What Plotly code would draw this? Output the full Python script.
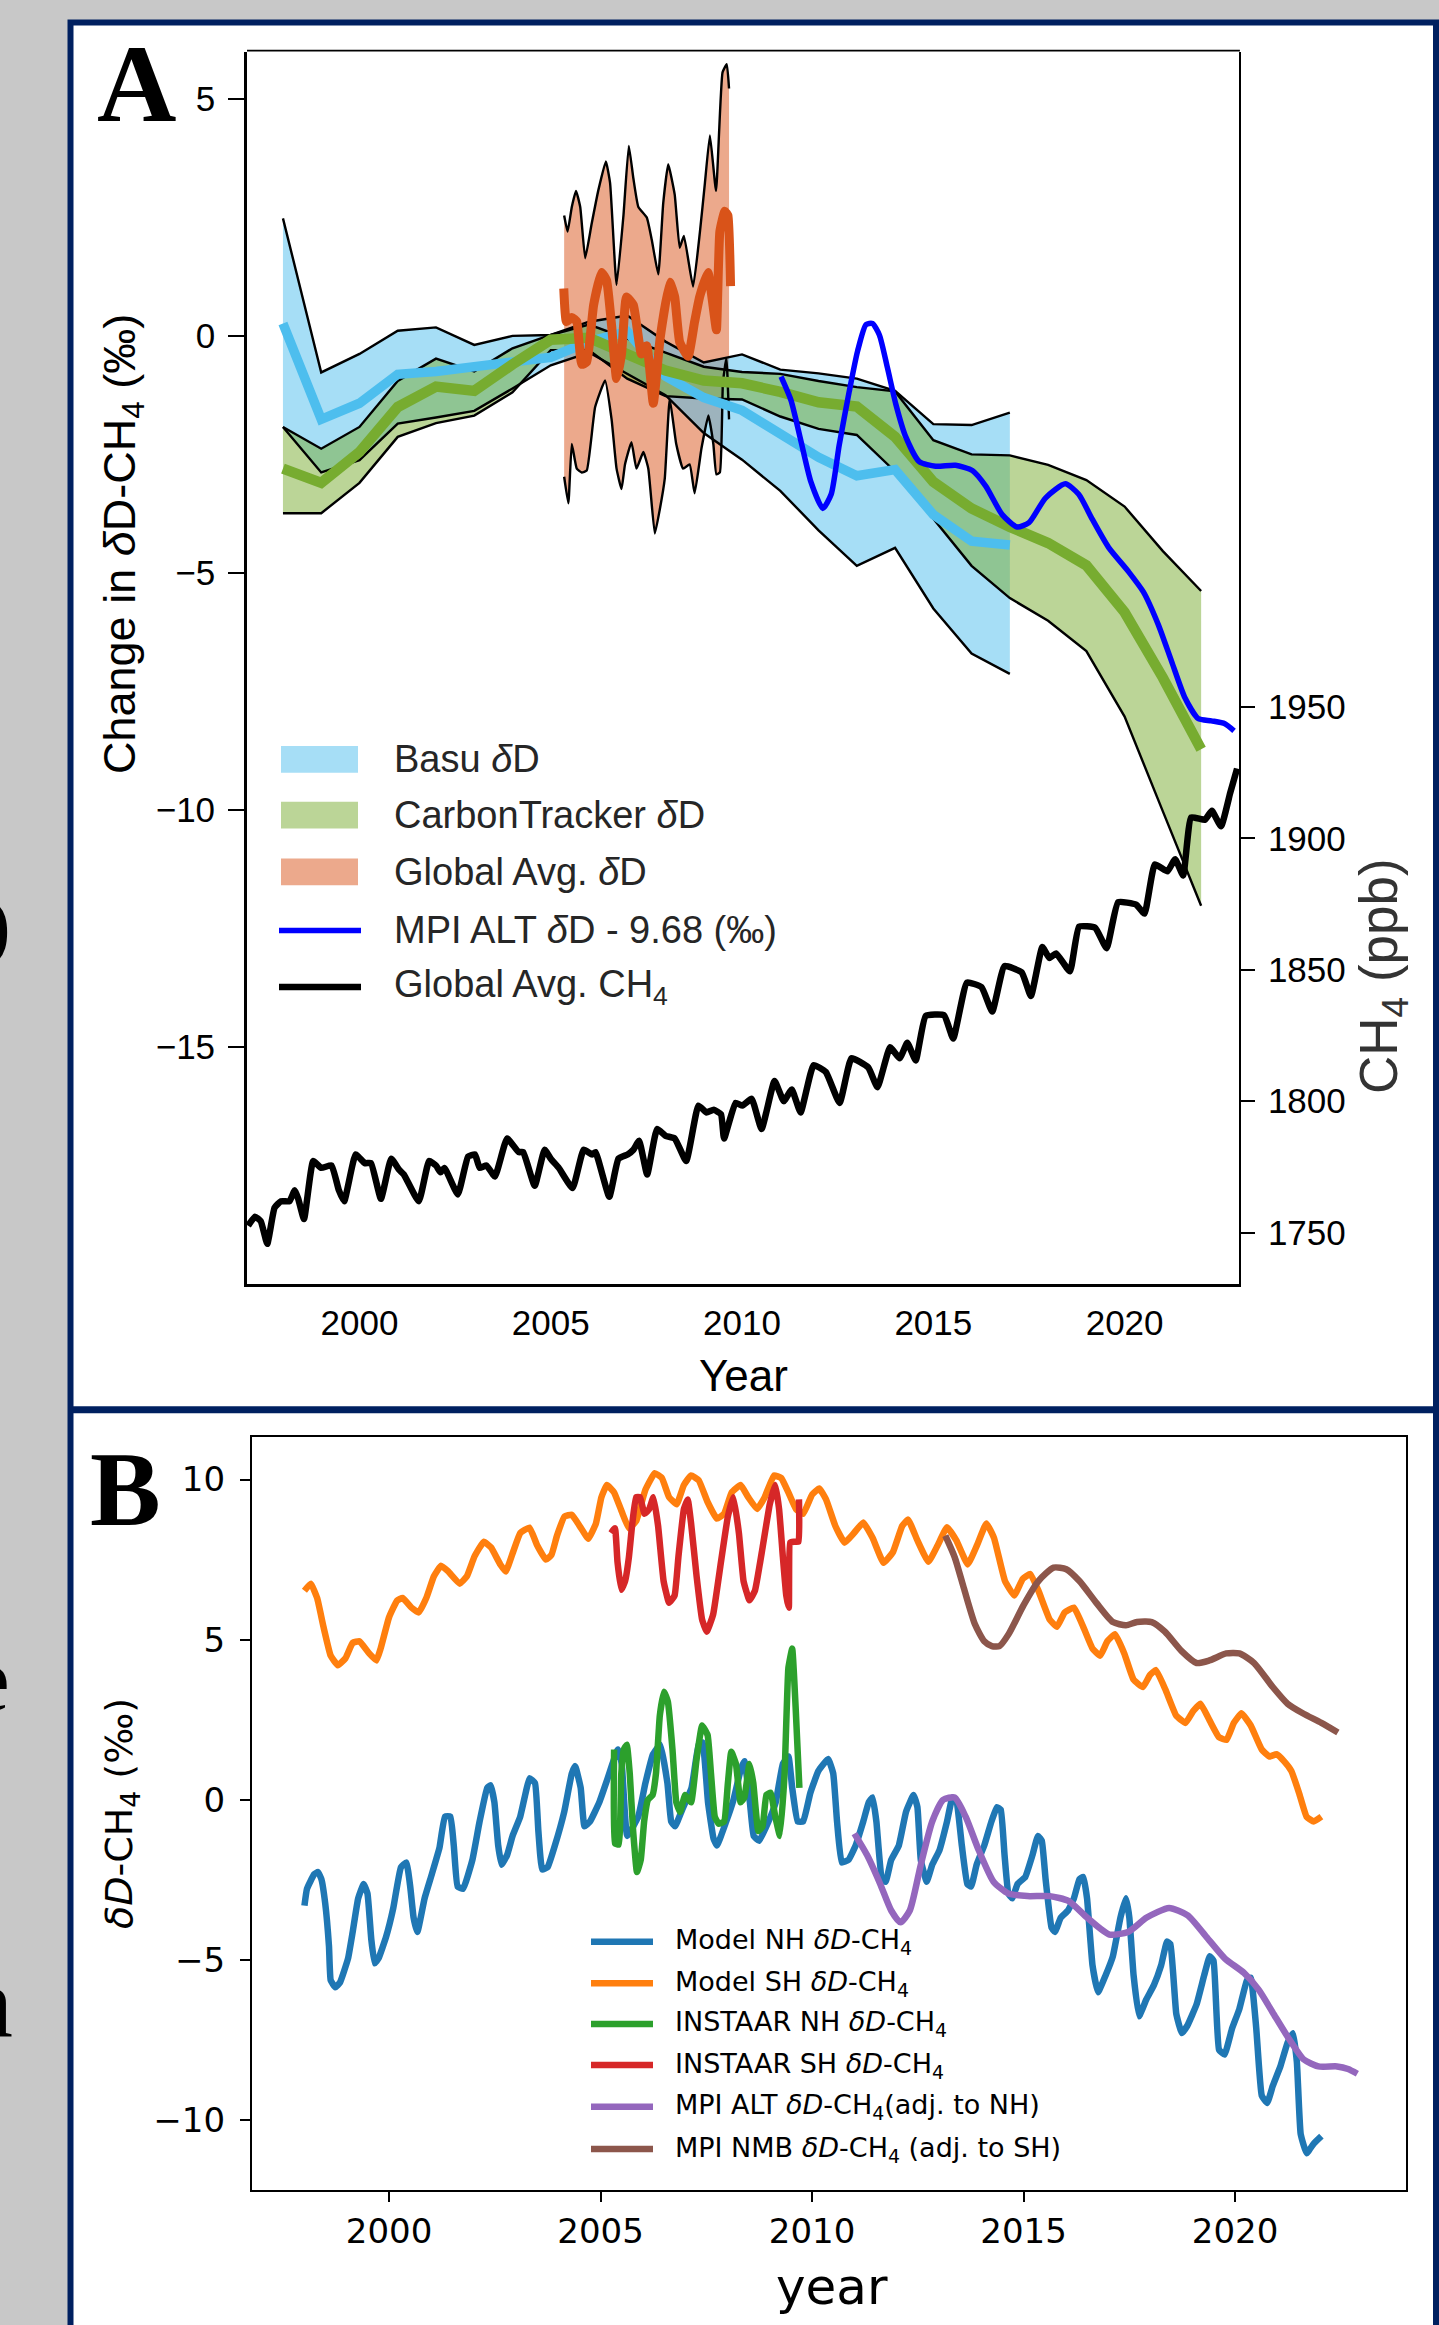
import plotly.graph_objects as go

W, H = 1439, 2325
def px(x): return x / W
def py(y): return 1 - y / H

ARIAL = "Liberation Sans, Arial, sans-serif"
DEJAVU = "DejaVu Sans, sans-serif"
SERIF = "Liberation Serif, Times New Roman, serif"

# ---------------- Panel A data ----------------
basu_year = list(range(1998, 2018))
basu_hi = [2.48, -0.77, -0.38, 0.11, 0.18, -0.19, 0.00, 0.02, 0.30, 0.43,
           -0.12, -0.56, -0.39, -0.71, -0.79, -0.90, -1.16, -1.86, -1.88, -1.62]
basu_mid = [0.26, -1.76, -1.42, -0.81, -0.75, -0.64, -0.55, -0.45, -0.12, 0.09,
            -0.85, -1.30, -1.57, -2.09, -2.56, -2.95, -2.82, -3.77, -4.33, -4.41]
basu_lo = [-1.92, -2.88, -2.62, -1.85, -1.72, -1.58, -1.11, -0.62, -0.35, -0.80,
           -1.25, -2.05, -2.61, -3.27, -4.10, -4.85, -4.47, -5.75, -6.70, -7.13]

ct_year = list(range(1998, 2023))
ct_hi = [-1.92, -2.38, -1.92, -0.95, -0.48, -0.75, -0.26, 0.02, 0.24, -0.05,
         -0.35, -0.65, -0.76, -0.80, -0.95, -1.08, -1.17, -2.20, -2.50, -2.52,
         -2.72, -3.04, -3.60, -4.54, -5.38]
ct_mid = [-2.80, -3.10, -2.45, -1.50, -1.07, -1.16, -0.60, -0.08, -0.04, -0.38,
          -0.73, -0.94, -1.00, -1.18, -1.40, -1.49, -2.13, -3.08, -3.64, -4.03,
          -4.37, -4.84, -5.83, -7.21, -8.72]
ct_lo = [-3.74, -3.74, -3.10, -2.13, -1.84, -1.68, -1.19, -0.30, -0.30, -0.90,
         -1.27, -1.32, -1.34, -1.70, -1.96, -2.09, -2.86, -3.85, -4.85, -5.53,
         -6.01, -6.65, -8.03, -10.03, -12.02]

ga_hi_x = [2005.35, 2005.44, 2005.55, 2005.66, 2005.77, 2005.90, 2006.07, 2006.24, 2006.44, 2006.55,
           2006.72, 2006.90, 2007.04, 2007.16, 2007.29, 2007.51, 2007.64, 2007.81, 2007.94, 2008.07,
           2008.24, 2008.37, 2008.48, 2008.72, 2008.90, 2009.03, 2009.16, 2009.32, 2009.49, 2009.60,
           2009.66]
ga_hi_y = [2.54, 2.20, 2.72, 3.06, 2.72, 1.64, 2.37, 3.06, 3.68, 3.23,
           1.08, 2.54, 4.01, 3.32, 2.72, 2.50, 2.03, 1.30, 2.80, 3.62,
           2.98, 1.86, 2.11, 1.04, 2.20, 3.23, 4.23, 3.06, 5.56, 5.73,
           5.22]
ga_lo_x = [2005.35, 2005.46, 2005.55, 2005.68, 2005.81, 2005.94, 2006.16, 2006.42, 2006.59, 2006.72,
           2006.85, 2006.94, 2007.11, 2007.24, 2007.42, 2007.55, 2007.72, 2007.85, 2007.98, 2008.11,
           2008.28, 2008.46, 2008.63, 2008.76, 2008.94, 2009.12, 2009.25, 2009.33, 2009.42, 2009.50,
           2009.59, 2009.66]
ga_lo_y = [-2.97, -3.53, -2.28, -2.80, -2.88, -2.84, -1.50, -0.94, -1.76, -2.80,
           -3.23, -2.71, -2.24, -2.80, -2.45, -2.80, -4.17, -3.66, -3.01, -1.33,
           -2.28, -2.80, -2.71, -3.32, -2.37, -1.68, -2.28, -2.92, -2.88, -0.99,
           -0.47, -1.76]
ga_mid_x = [2005.34, 2005.41, 2005.55, 2005.68, 2005.81, 2005.94, 2006.12, 2006.33, 2006.46, 2006.59,
            2006.72, 2006.85, 2006.98, 2007.16, 2007.37, 2007.51, 2007.68, 2007.86, 2008.11, 2008.24,
            2008.37, 2008.59, 2008.76, 2008.89, 2009.11, 2009.24, 2009.33, 2009.42, 2009.55, 2009.63,
            2009.70]
ga_mid_y = [1.00, 0.30, 0.39, 0.30, -0.60, -0.55, 0.65, 1.34, 1.17, 0.22,
            -0.90, -0.38, 0.82, 0.65, -0.38, -0.21, -1.42, -0.04, 1.13, 0.82,
            -0.13, -0.43, 0.30, 0.82, 1.34, 0.65, 0.13, 2.20, 2.63, 2.54,
            1.05]

mpi_alt_x = [2011.02, 2011.28, 2011.54, 2011.80, 2012.11, 2012.33, 2012.54, 2012.80, 2013.02, 2013.24,
             2013.41, 2013.59, 2013.80, 2014.02, 2014.28, 2014.63, 2015.06, 2015.58, 2016.02, 2016.37,
             2016.80, 2017.19, 2017.50, 2017.93, 2018.45, 2018.80, 2019.15, 2019.58, 2020.10, 2020.49,
             2020.88, 2021.23, 2021.58, 2021.92, 2022.27, 2022.62, 2022.86]
mpi_alt_y = [-0.86, -1.36, -2.22, -3.08, -3.64, -3.34, -2.30, -1.18, -0.32, 0.24,
             0.26, 0.02, -0.67, -1.44, -2.13, -2.65, -2.75, -2.73, -2.84, -3.17,
             -3.77, -4.03, -3.94, -3.42, -3.12, -3.34, -3.86, -4.46, -4.97, -5.40,
             -6.09, -6.87, -7.64, -8.07, -8.12, -8.18, -8.33]

ch4_year = [1997.09, 1997.27, 1997.42, 1997.59, 1997.78, 1997.95, 1998.17, 1998.31, 1998.40, 1998.55,
            1998.79, 1999.00, 1999.27, 1999.46, 1999.60, 1999.90, 2000.14, 2000.30, 2000.56, 2000.83,
            2001.04, 2001.16, 2001.55, 2001.82, 2002.00, 2002.12, 2002.22, 2002.57, 2002.84, 2003.02,
            2003.14, 2003.32, 2003.54, 2003.86, 2004.16, 2004.28, 2004.58, 2004.84, 2005.00, 2005.21,
            2005.57, 2005.86, 2006.08, 2006.17, 2006.53, 2006.77, 2007.01, 2007.16, 2007.31, 2007.52,
            2007.78, 2008.00, 2008.24, 2008.54, 2008.86, 2009.07, 2009.26, 2009.45, 2009.53, 2009.83,
            2010.01, 2010.25, 2010.51, 2010.85, 2011.09, 2011.30, 2011.53, 2011.87, 2012.19, 2012.55,
            2012.86, 2013.30, 2013.54, 2013.87, 2014.12, 2014.32, 2014.54, 2014.80, 2015.28, 2015.52,
            2015.88, 2016.26, 2016.54, 2016.86, 2017.31, 2017.55, 2017.85, 2018.03, 2018.21, 2018.57,
            2018.81, 2019.23, 2019.53, 2019.83, 2020.30, 2020.52, 2020.79, 2021.12, 2021.32, 2021.53,
            2021.74, 2022.10, 2022.28, 2022.52, 2022.76, 2022.94]
ch4_ppb = [1752.6, 1756.0, 1754.3, 1745.7, 1759.4, 1761.9, 1761.9, 1766.1, 1762.8, 1755.1,
           1777.2, 1774.6, 1775.5, 1766.1, 1761.9, 1779.7, 1776.4, 1776.4, 1762.8, 1778.1,
           1773.8, 1772.1, 1761.9, 1777.2, 1775.5, 1772.9, 1774.6, 1764.5, 1778.9, 1779.7,
           1774.6, 1775.5, 1771.3, 1785.8, 1780.6, 1780.6, 1767.8, 1781.5, 1778.1, 1774.6,
           1766.9, 1781.5, 1779.7, 1780.6, 1763.6, 1778.1, 1779.7, 1781.5, 1784.9, 1772.1,
           1789.4, 1786.8, 1785.8, 1777.2, 1798.3, 1795.7, 1796.7, 1795.0, 1785.8, 1799.3,
           1798.3, 1800.9, 1789.4, 1807.7, 1800.0, 1804.4, 1795.7, 1813.7, 1811.1, 1799.3,
           1816.3, 1812.8, 1805.3, 1820.5, 1816.3, 1822.2, 1815.5, 1832.4, 1832.7, 1823.8,
           1845.1, 1843.4, 1834.1, 1851.4, 1849.0, 1840.0, 1858.7, 1854.5, 1856.2, 1849.4,
           1866.4, 1866.0, 1858.2, 1875.7, 1874.8, 1871.4, 1890.1, 1887.5, 1892.1, 1885.9,
           1908.0, 1907.1, 1910.5, 1904.6, 1917.3, 1926.6]

a_xticks = [2000, 2005, 2010, 2015, 2020]
a_yticks = [-15, -10, -5, 0, 5]
a_y2ticks = [1750, 1800, 1850, 1900, 1950]

legend_a_labels = ["Basu <i>δ</i>D", "CarbonTracker <i>δ</i>D", "Global Avg. <i>δ</i>D",
                   "MPI ALT <i>δ</i>D - 9.68 (‰)", "Global Avg. CH<sub>4</sub>"]

# ---------------- Panel B data ----------------
nh_x = [1998.00, 1998.06, 1998.23, 1998.32, 1998.40, 1998.49, 1998.58, 1998.62, 1998.73, 1998.84,
        1999.03, 1999.14, 1999.27, 1999.40, 1999.49, 1999.58, 1999.66, 1999.75, 1999.93, 2000.10,
        2000.28, 2000.41, 2000.50, 2000.58, 2000.67, 2000.84, 2001.01, 2001.19, 2001.32, 2001.45,
        2001.53, 2001.62, 2001.75, 2001.97, 2002.14, 2002.32, 2002.40, 2002.49, 2002.58, 2002.66,
        2002.79, 2002.92, 2003.10, 2003.23, 2003.32, 2003.45, 2003.53, 2003.62, 2003.75, 2003.92,
        2004.14, 2004.32, 2004.40, 2004.53, 2004.62, 2004.75, 2004.97, 2005.15, 2005.28, 2005.41,
        2005.50, 2005.63, 2005.89, 2006.06, 2006.24, 2006.41, 2006.58, 2006.67, 2006.76, 2006.93,
        2007.15, 2007.32, 2007.41, 2007.54, 2007.67, 2007.75, 2007.97, 2008.14, 2008.32, 2008.40,
        2008.53, 2008.62, 2008.75, 2008.97, 2009.14, 2009.31, 2009.44, 2009.53, 2009.66, 2009.79,
        2009.96, 2010.15, 2010.38, 2010.50, 2010.59, 2010.70, 2010.86, 2011.03, 2011.21, 2011.34,
        2011.43, 2011.52, 2011.65, 2011.74, 2011.87, 2012.05, 2012.22, 2012.40, 2012.49, 2012.57,
        2012.71, 2012.84, 2013.01, 2013.19, 2013.32, 2013.41, 2013.54, 2013.67, 2013.76, 2013.89,
        2014.07, 2014.24, 2014.37, 2014.46, 2014.55, 2014.64, 2014.73, 2014.86, 2015.04, 2015.21,
        2015.34, 2015.43, 2015.52, 2015.66, 2015.74, 2015.88, 2016.05, 2016.19, 2016.32, 2016.41,
        2016.50, 2016.63, 2016.76, 2016.94, 2017.11, 2017.29, 2017.42, 2017.50, 2017.60, 2017.73,
        2017.90, 2018.08, 2018.25, 2018.39, 2018.47, 2018.61, 2018.74, 2018.87, 2019.09, 2019.27,
        2019.40, 2019.49, 2019.62, 2019.75, 2019.93, 2020.10, 2020.28, 2020.37, 2020.50, 2020.63,
        2020.76, 2020.89, 2021.07, 2021.24, 2021.37, 2021.46, 2021.55, 2021.69, 2021.86, 2022.04]
nh_y = [-3.31, -2.78, -2.33, -2.26, -2.48, -3.23, -4.58, -5.64, -5.86, -5.71,
        -4.96, -4.13, -3.08, -2.63, -2.93, -4.36, -5.11, -4.96, -4.28, -3.38,
        -2.11, -1.96, -2.71, -3.68, -4.13, -3.08, -2.33, -1.51, -0.53, -0.53,
        -1.43, -2.71, -2.78, -1.88, -0.68, 0.37, 0.45, -0.08, -1.43, -2.03,
        -1.73, -1.13, -0.53, 0.22, 0.67, 0.52, -0.98, -2.18, -2.10, -1.43,
        -0.38, 0.82, 1.05, 0.37, -0.83, -0.68, -0.08, 0.60, 1.12, 1.57,
        1.12, -1.13, -0.53, 0.52, 1.42, 1.72, 0.52, -0.68, -0.83, -0.31,
        0.37, 1.72, 1.79, -0.08, -1.21, -1.43, -0.68, -0.01, 0.97, 1.20,
        -0.08, -1.13, -1.28, -0.68, -0.08, 1.12, 1.35, 0.37, -0.68, -0.68,
        0.22, 0.90, 1.27, 0.82, -0.68, -1.96, -1.88, -1.43, -0.68, -0.08,
        0.07, -0.68, -2.48, -2.56, -1.88, -1.43, -0.38, 0.15, -0.23, -1.88,
        -2.56, -2.03, -1.58, -0.68, 0.07, -0.02, -1.43, -2.63, -2.71, -2.03,
        -1.43, -0.68, -0.23, -0.31, -1.73, -2.93, -3.08, -2.63, -2.41, -1.73,
        -1.13, -1.28, -2.48, -3.99, -4.13, -3.68, -3.46, -3.08, -2.48, -2.41,
        -3.08, -5.18, -6.01, -5.48, -4.89, -3.68, -3.08, -3.68, -5.48, -6.76,
        -6.24, -5.79, -5.18, -4.43, -4.51, -6.69, -7.29, -7.06, -6.39, -5.48,
        -4.89, -5.03, -7.81, -7.96, -7.14, -6.54, -5.64, -5.56, -7.14, -9.24,
        -9.47, -8.94, -8.33, -7.59, -7.29, -8.19, -10.44, -11.04, -10.74, -10.51]

sh_x = [1998.00, 1998.15, 1998.30, 1998.45, 1998.62, 1998.79, 1998.97, 1999.14, 1999.30, 1999.53,
        1999.70, 1999.80, 2000.00, 2000.19, 2000.32, 2000.53, 2000.70, 2000.88, 2001.06, 2001.23,
        2001.40, 2001.67, 2001.84, 2002.02, 2002.24, 2002.41, 2002.63, 2002.76, 2002.93, 2003.10,
        2003.32, 2003.50, 2003.71, 2003.84, 2003.97, 2004.15, 2004.32, 2004.54, 2004.71, 2004.89,
        2005.02, 2005.15, 2005.32, 2005.50, 2005.67, 2005.84, 2006.06, 2006.28, 2006.45, 2006.62,
        2006.80, 2006.97, 2007.14, 2007.32, 2007.53, 2007.75, 2007.92, 2008.10, 2008.31, 2008.49,
        2008.70, 2008.88, 2009.10, 2009.27, 2009.44, 2009.62, 2009.79, 2010.00, 2010.17, 2010.33,
        2010.55, 2010.77, 2010.99, 2011.21, 2011.43, 2011.69, 2011.91, 2012.13, 2012.27, 2012.49,
        2012.75, 2012.97, 2013.19, 2013.41, 2013.68, 2013.90, 2014.12, 2014.30, 2014.56, 2014.78,
        2014.98, 2015.16, 2015.35, 2015.62, 2015.79, 2015.97, 2016.19, 2016.41, 2016.63, 2016.81,
        2016.98, 2017.16, 2017.38, 2017.60, 2017.82, 2017.99, 2018.13, 2018.35, 2018.61, 2018.83,
        2019.01, 2019.18, 2019.40, 2019.62, 2019.80, 2019.97, 2020.15, 2020.37, 2020.63, 2020.81,
        2020.98, 2021.16, 2021.33, 2021.51, 2021.69, 2021.86, 2022.04]
sh_y = [6.53, 6.75, 6.30, 5.40, 4.50, 4.20, 4.42, 4.90, 4.95, 4.57,
        4.35, 4.72, 5.70, 6.22, 6.30, 6.00, 5.85, 6.30, 6.98, 7.31,
        7.13, 6.75, 6.98, 7.60, 8.06, 7.88, 7.35, 7.13, 7.73, 8.33,
        8.50, 7.95, 7.50, 7.65, 8.25, 8.85, 8.90, 8.48, 8.15, 8.63,
        9.45, 9.83, 9.60, 9.00, 8.48, 8.70, 9.68, 10.20, 10.05, 9.45,
        9.23, 9.83, 10.13, 9.98, 9.30, 8.78, 8.93, 9.60, 9.83, 9.45,
        9.08, 9.45, 10.13, 10.05, 9.60, 9.08, 8.93, 9.53, 9.72, 9.38,
        8.55, 8.03, 8.33, 8.66, 8.18, 7.40, 7.73, 8.55, 8.75, 8.10,
        7.43, 7.95, 8.51, 8.10, 7.35, 7.95, 8.63, 8.18, 6.83, 6.38,
        6.90, 7.05, 6.53, 5.62, 5.40, 5.85, 6.00, 5.40, 4.72, 4.50,
        4.95, 5.17, 4.57, 3.75, 3.52, 3.90, 4.05, 3.45, 2.62, 2.40,
        2.77, 3.00, 2.47, 1.95, 1.87, 2.40, 2.70, 2.32, 1.57, 1.35,
        1.42, 1.20, 0.90, 0.22, -0.53, -0.68, -0.53]

inst_nh_x = [2005.32, 2005.34, 2005.43, 2005.49, 2005.55, 2005.62, 2005.69, 2005.77, 2005.86, 2005.95,
             2006.03, 2006.12, 2006.23, 2006.31, 2006.40, 2006.50, 2006.59, 2006.70, 2006.79, 2006.88,
             2007.00, 2007.14, 2007.27, 2007.40, 2007.53, 2007.61, 2007.70, 2007.79, 2007.92, 2008.01,
             2008.09, 2008.20, 2008.31, 2008.40, 2008.52, 2008.61, 2008.73, 2008.83, 2008.92, 2009.02,
             2009.13, 2009.24, 2009.35, 2009.44, 2009.53, 2009.61, 2009.70]
inst_nh_y = [1.57, -1.36, -1.40, 0.82, 1.57, 1.72, 0.82, -0.98, -2.26, -1.88,
             -0.68, 0.00, 0.15, 0.82, 2.62, 3.37, 3.07, 1.57, -0.08, -0.38,
             0.15, -0.08, 1.27, 2.32, 2.02, 0.82, -0.53, -0.75, -0.68, 0.52,
             1.50, 1.12, -0.08, 0.07, 1.12, 0.52, -0.98, -0.83, 0.15, 0.22,
             -0.53, -1.13, 0.82, 4.12, 4.72, 2.92, 0.37]

inst_sh_x = [2005.25, 2005.34, 2005.40, 2005.49, 2005.58, 2005.67, 2005.75, 2005.84, 2005.93, 2006.04,
             2006.15, 2006.25, 2006.36, 2006.49, 2006.62, 2006.75, 2006.84, 2006.97, 2007.06, 2007.14,
             2007.27, 2007.40, 2007.51, 2007.66, 2007.83, 2008.01, 2008.14, 2008.27, 2008.38, 2008.52,
             2008.65, 2008.83, 2009.00, 2009.13, 2009.22, 2009.31, 2009.39, 2009.45, 2009.48, 2009.57,
             2009.68, 2009.69]
inst_sh_y = [8.33, 8.48, 7.43, 6.56, 6.83, 7.58, 8.63, 9.45, 9.45, 8.93,
             9.08, 9.45, 8.55, 6.83, 6.15, 6.38, 7.58, 9.08, 9.38, 8.63,
             6.98, 5.63, 5.25, 5.78, 7.28, 8.85, 9.45, 8.33, 6.83, 6.23,
             6.53, 7.88, 9.23, 9.83, 9.08, 7.58, 6.38, 6.00, 8.03, 8.06,
             8.06, 9.38]

alt_x = [2011.00, 2011.30, 2011.61, 2011.87, 2012.09, 2012.31, 2012.57, 2012.84, 2013.10, 2013.37,
         2013.63, 2013.94, 2014.29, 2014.64, 2015.09, 2015.62, 2016.06, 2016.50, 2017.03, 2017.47,
         2017.91, 2018.44, 2018.88, 2019.32, 2019.76, 2020.21, 2020.56, 2020.91, 2021.26, 2021.62,
         2021.97, 2022.41, 2022.67, 2022.89]
alt_y = [-1.06, -1.73, -2.63, -3.46, -3.83, -3.46, -2.03, -0.68, 0.00, 0.07,
         -0.53, -1.58, -2.56, -2.93, -3.01, -3.01, -3.16, -3.68, -4.21, -4.13,
         -3.68, -3.38, -3.61, -4.28, -4.96, -5.41, -5.94, -6.69, -7.44, -8.11,
         -8.33, -8.33, -8.41, -8.56]

nmb_x = [2013.15, 2013.37, 2013.59, 2013.85, 2014.07, 2014.25, 2014.43, 2014.65, 2015.00, 2015.35,
         2015.71, 2016.01, 2016.32, 2016.72, 2017.11, 2017.42, 2017.68, 2018.03, 2018.34, 2018.73,
         2019.09, 2019.39, 2019.79, 2020.10, 2020.45, 2020.89, 2021.24, 2021.60, 2022.04, 2022.43]
nmb_y = [8.25, 7.58, 6.60, 5.48, 4.95, 4.80, 4.80, 5.18, 6.08, 6.83,
         7.25, 7.20, 6.83, 6.15, 5.55, 5.45, 5.55, 5.55, 5.25, 4.65,
         4.27, 4.35, 4.57, 4.57, 4.27, 3.52, 3.00, 2.70, 2.40, 2.10]

b_xticks = [2000, 2005, 2010, 2015, 2020]
b_yticks = [-10, -5, 0, 5, 10]
legend_b_labels = ["Model NH <i>δD</i>-CH<sub>4</sub>", "Model SH <i>δD</i>-CH<sub>4</sub>",
                   "INSTAAR NH <i>δD</i>-CH<sub>4</sub>", "INSTAAR SH <i>δD</i>-CH<sub>4</sub>",
                   "MPI ALT <i>δD</i>-CH<sub>4</sub>(adj. to NH)",
                   "MPI NMB <i>δD</i>-CH<sub>4</sub> (adj. to SH)"]
b_colors = ["#1f77b4", "#ff7f0e", "#2ca02c", "#d62728", "#9467bd", "#8c564b"]

# ---------------- Build figure ----------------
BLUE_F = "rgba(77,190,238,0.5)"
GREEN_F = "rgba(119,172,48,0.5)"
ORANGE_F = "rgba(217,83,25,0.5)"

fig = go.Figure()

def band(xh, yh, xl, yl, color):
    fig.add_trace(go.Scatter(x=list(xh) + list(xl)[::-1], y=list(yh) + list(yl)[::-1],
                             mode="lines", fill="toself", fillcolor=color,
                             line=dict(width=0, color=color), hoverinfo="skip",
                             xaxis="x", yaxis="y"))

def line(x, y, color, width, ax="x", ay="y", shape="linear", smooth=0.6):
    ln = dict(color=color, width=width, shape=shape)
    if shape == "spline":
        ln["smoothing"] = smooth
    fig.add_trace(go.Scatter(x=x, y=y, mode="lines", line=ln,
                             hoverinfo="skip", xaxis=ax, yaxis=ay))

# fills (orange below, then blue, then green)
band(ga_hi_x, ga_hi_y, ga_lo_x, ga_lo_y, ORANGE_F)
band(basu_year, basu_hi, basu_year, basu_lo, BLUE_F)
band(ct_year, ct_hi, ct_year, ct_lo, GREEN_F)
# black bounds
for xs, ys in [(basu_year, basu_hi), (basu_year, basu_lo), (ct_year, ct_hi), (ct_year, ct_lo)]:
    line(xs, ys, "black", 2.4)
for xs, ys in [(ga_hi_x, ga_hi_y), (ga_lo_x, ga_lo_y)]:
    line(xs, ys, "black", 2.4, shape="spline", smooth=0.4)
# centre lines
line(basu_year, basu_mid, "#4DBEEE", 9.5)
line(ct_year, ct_mid, "#77AC30", 10.5)
line(ga_mid_x, ga_mid_y, "#D95319", 9, shape="spline", smooth=0.4)
line(mpi_alt_x, mpi_alt_y, "#0000FF", 5.5, shape="spline")
# CH4 on right axis
line(ch4_year, ch4_ppb, "black", 6.5, ay="y2", shape="spline", smooth=0.4)

# Panel B
for (xs, ys), c in zip([(nh_x, nh_y), (sh_x, sh_y), (inst_nh_x, inst_nh_y), (inst_sh_x, inst_sh_y),
                        (alt_x, alt_y), (nmb_x, nmb_y)], b_colors):
    if c in ("#9467bd", "#8c564b"):
        line(xs, ys, c, 6.5, ax="x2", ay="y3", shape="spline", smooth=0.6)
    else:
        line(xs, ys, c, 6.5, ax="x2", ay="y3", shape="spline", smooth=0.35)

tfA = dict(family=ARIAL, size=35, color="black")
tfB = dict(family=DEJAVU, size=34, color="black")

fig.update_layout(
    width=W, height=H, margin=dict(l=0, r=0, t=0, b=0),
    paper_bgcolor="#c8c8c8", plot_bgcolor="rgba(0,0,0,0)", showlegend=False,
    xaxis=dict(domain=[px(247), px(1239)], range=[1997.06, 2022.99], anchor="y",
               showline=True, linecolor="black", linewidth=2.8, ticks="",
               tickvals=a_xticks, tickfont=tfA, showgrid=False, zeroline=False,
               ticklabelstandoff=6),
    yaxis=dict(domain=[py(1284), py(51.5)], range=[-20, 6], anchor="x",
               showline=True, linecolor="black", linewidth=2.8, ticks="outside",
               ticklen=16, tickwidth=2, tickcolor="black", tickvals=a_yticks, tickfont=tfA,
               showgrid=False, zeroline=False, ticklabelstandoff=6),
    yaxis2=dict(overlaying="y", side="right", anchor="x", range=[1730.4, 2199.5],
                showline=True, linecolor="black", linewidth=1.8, ticks="outside",
                ticklen=14, tickwidth=2, tickcolor="black", tickvals=a_y2ticks, tickfont=tfA,
                showgrid=False, zeroline=False, ticklabelstandoff=6),
    xaxis2=dict(domain=[px(252), px(1406)], range=[1996.76, 2024.04], anchor="y3",
                showline=True, mirror=True, linecolor="black", linewidth=2.2, ticks="outside",
                ticklen=10, tickwidth=2, tickcolor="black", tickvals=b_xticks, tickfont=tfB,
                showgrid=False, zeroline=False, ticklabelstandoff=0),
    yaxis3=dict(domain=[py(2190), py(1437)], range=[-12.19, 11.33], anchor="x2",
                showline=True, mirror=True, linecolor="black", linewidth=2.2, ticks="outside",
                ticklen=10, tickwidth=2, tickcolor="black", tickvals=b_yticks, tickfont=tfB,
                showgrid=False, zeroline=False, ticklabelstandoff=8),
)

NAVY = "#002060"
shapes = [
    dict(type="rect", xref="paper", yref="paper", x0=px(70.5), x1=px(1436), y0=py(22.5), y1=py(2335),
         fillcolor="white", line=dict(color=NAVY, width=6), layer="below"),
    dict(type="line", xref="paper", yref="paper", x0=px(70.5), x1=px(1436), y0=py(1409.7), y1=py(1409.7),
         line=dict(color=NAVY, width=7), layer="below"),
    # thin top spine of panel A
    dict(type="line", xref="paper", yref="paper", x0=px(247), x1=px(1239.9), y0=py(50.6), y1=py(50.6),
         line=dict(color="black", width=1.8)),
]
# legend A keys
leg_a_y = [759.4, 815.2, 871.9, 930.4, 987.0]
for yy, col in zip(leg_a_y[:3], [BLUE_F, GREEN_F, ORANGE_F]):
    shapes.append(dict(type="rect", xref="paper", yref="paper", x0=px(281), x1=px(358),
                       y0=py(yy + 13.4), y1=py(yy - 13.4), fillcolor=col, line=dict(width=0)))
for yy, col, lw in zip(leg_a_y[3:], ["#0000FF", "black"], [5.5, 6.5]):
    shapes.append(dict(type="line", xref="paper", yref="paper", x0=px(279), x1=px(361),
                       y0=py(yy), y1=py(yy), line=dict(color=col, width=lw)))
# legend B keys
leg_b_y = [1941.7, 1983.3, 2024.0, 2065.0, 2106.7, 2149.0]
for yy, col in zip(leg_b_y, b_colors):
    shapes.append(dict(type="line", xref="paper", yref="paper", x0=px(591), x1=px(653),
                       y0=py(yy), y1=py(yy), line=dict(color=col, width=6.5)))
fig.update_layout(shapes=shapes)

anns = []
def ann(text, x, y, size, family, color="black", angle=0, xanchor="center", yanchor="middle"):
    anns.append(dict(text=text, x=px(x), y=py(y), xref="paper", yref="paper", showarrow=False,
                     font=dict(size=size, family=family, color=color), textangle=angle,
                     xanchor=xanchor, yanchor=yanchor, borderpad=0))

for t, yy in zip(legend_a_labels, leg_a_y):
    ann(t, 392.6, yy, 38, ARIAL, color="#262626", xanchor="left")
for t, yy in zip(legend_b_labels, leg_b_y):
    ann(t, 674, yy, 27, DEJAVU, xanchor="left")

ann("Change in <i>δ</i>D-CH<sub>4</sub> (‰)", 122, 544, 45, ARIAL, angle=-90)
ann("CH<sub>4</sub> (ppb)", 1382, 976, 53, ARIAL, color="#333333", angle=-90)
ann("Year", 743, 1375, 44, ARIAL)
ann("<i>δD</i>-CH<sub>4</sub> (‰)", 121, 1814, 38, DEJAVU, angle=-90)
ann("year", 832, 2287, 50, DEJAVU)
ann("<b>A</b>", 136.5, 84, 110, SERIF)
ann("<b>B</b>", 125, 1489, 106, SERIF)
# clipped letters from neighbouring slide text
ann(")", 12, 925, 80, SERIF, xanchor="right")
ann("e", 11, 1679, 92, SERIF, xanchor="right")
ann("n", 14, 2003, 100, SERIF, xanchor="right")
fig.update_layout(annotations=anns)

fig.write_html("out.html", config={"displayModeBar": False},
               post_script="document.body.style.margin='0px';")
